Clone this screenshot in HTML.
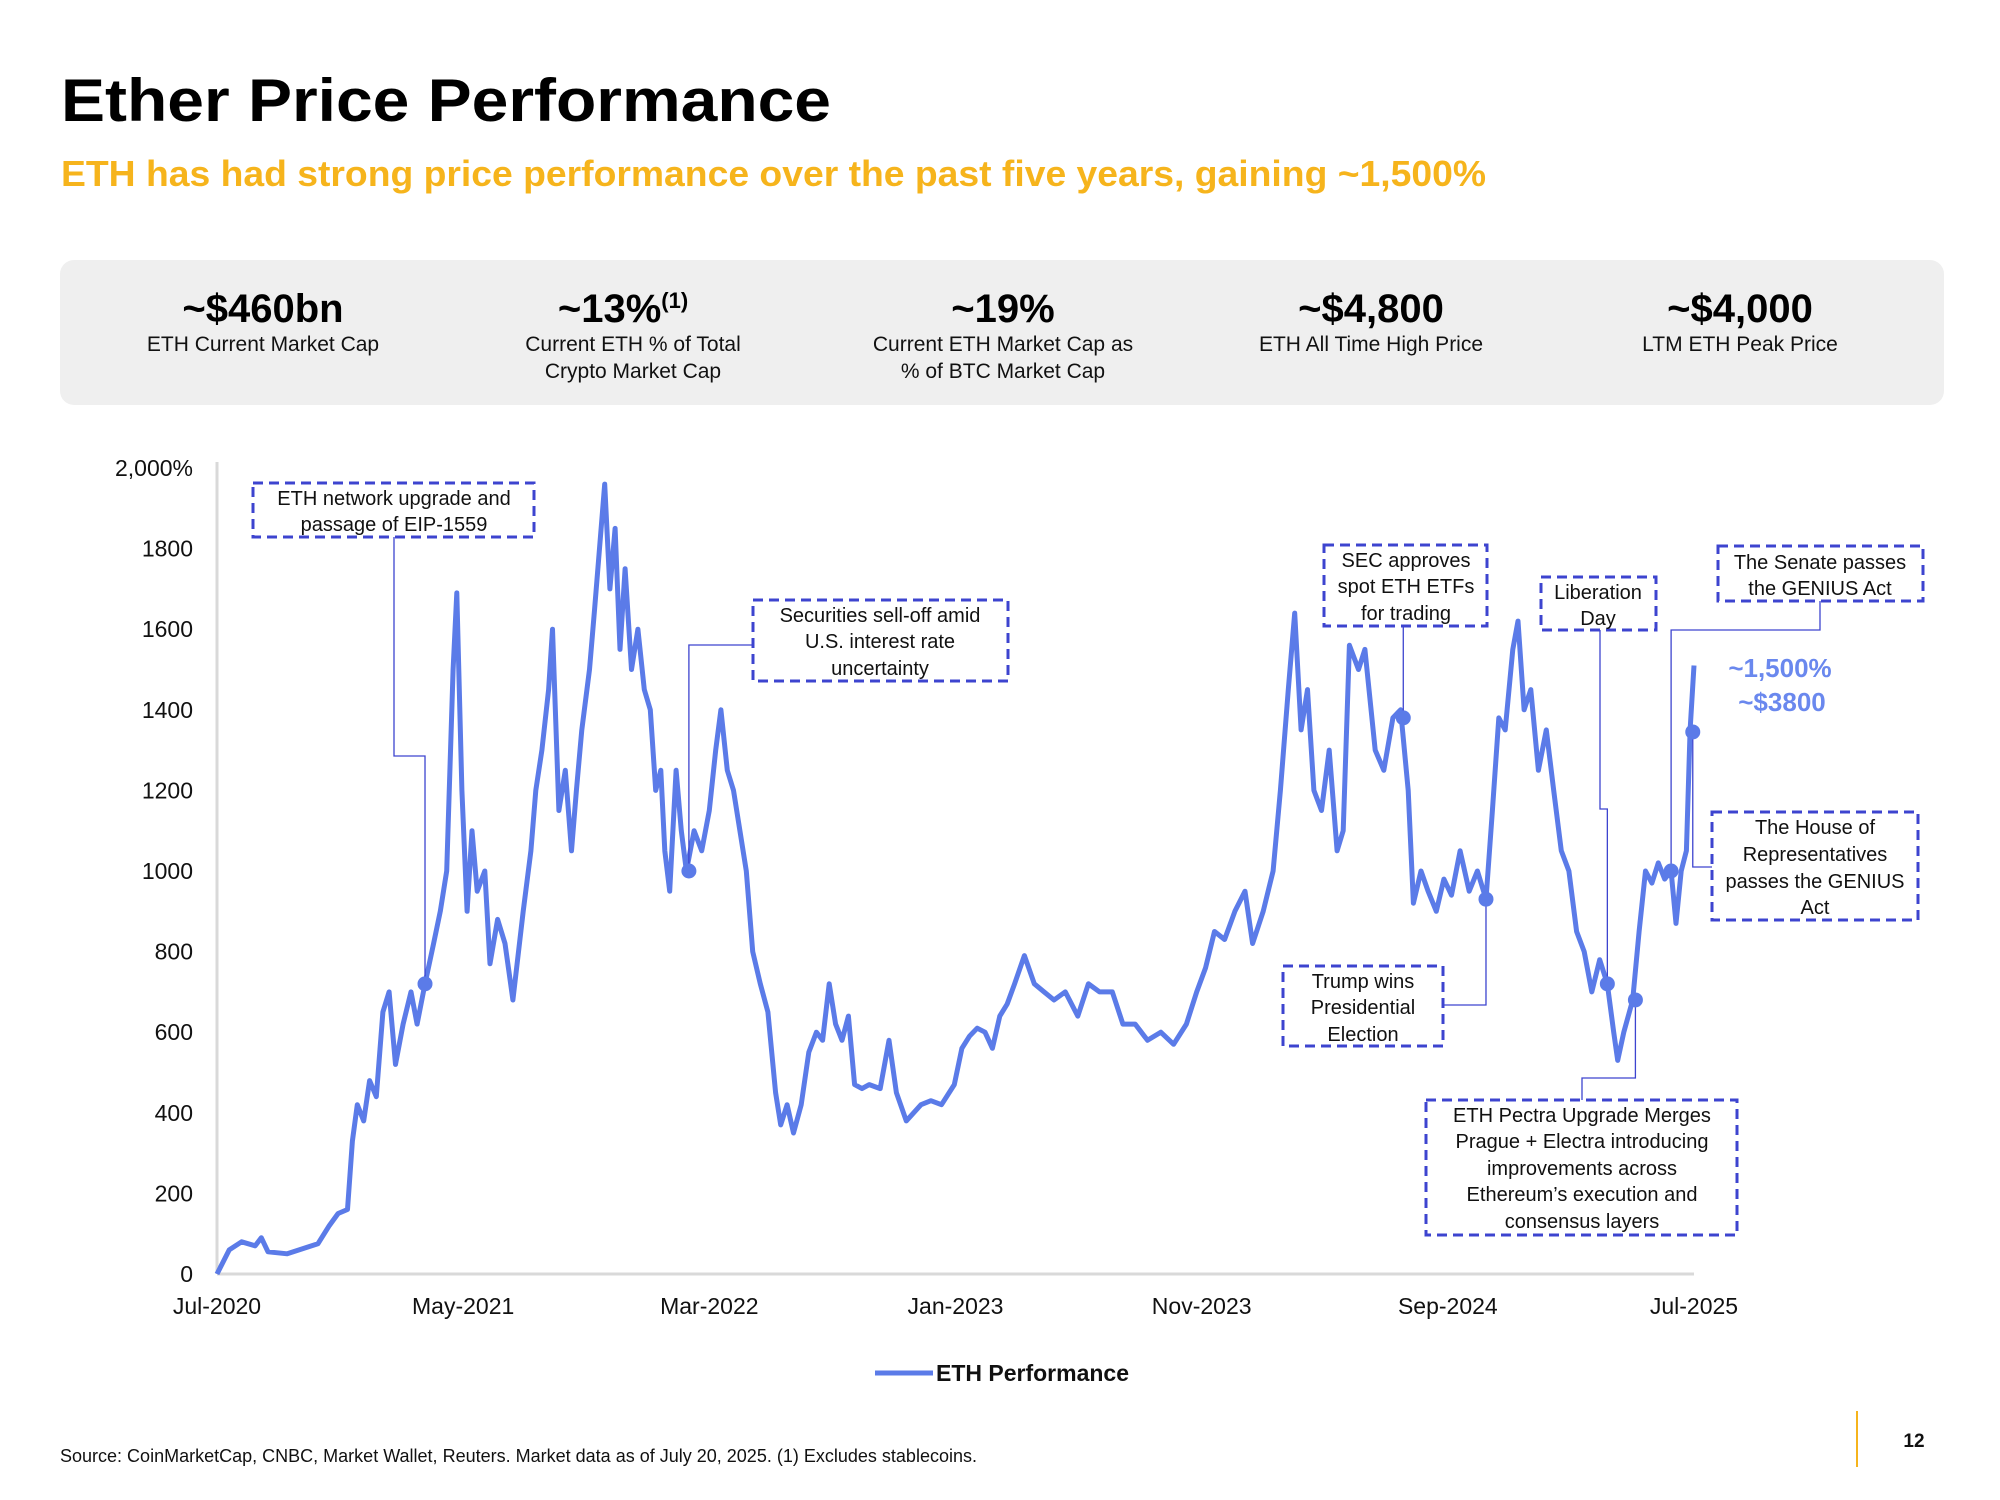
<!DOCTYPE html>
<html><head><meta charset="utf-8"><title>Ether Price Performance</title>
<style>
html,body{margin:0;padding:0;background:#fff;}
svg{display:block;font-family:"Liberation Sans",sans-serif;}
</style></head>
<body>
<svg id="page" width="2000" height="1500" viewBox="0 0 2000 1500" xmlns="http://www.w3.org/2000/svg">
  <text x="61" y="121" font-size="60" font-weight="bold" fill="#000" textLength="770" lengthAdjust="spacingAndGlyphs">Ether Price Performance</text>
  <text x="61" y="186" font-size="36" font-weight="bold" fill="#f6b41c" textLength="1425" lengthAdjust="spacingAndGlyphs">ETH has had strong price performance over the past five years, gaining ~1,500%</text>

  <g>
    <rect x="60" y="260" width="1884" height="145" rx="14" fill="#efefef"/>
    <g font-size="40" font-weight="bold" fill="#000" text-anchor="middle">
      <text x="263" y="322">~$460bn</text>
      <text x="623" y="322">~13%<tspan font-size="22" dy="-14">(1)</tspan></text>
      <text x="1003" y="322">~19%</text>
      <text x="1371" y="322">~$4,800</text>
      <text x="1740" y="322">~$4,000</text>
    </g>
    <g font-size="21" fill="#111" text-anchor="middle">
      <text x="263" y="351">ETH Current Market Cap</text>
      <text x="633" y="351">Current ETH % of Total</text>
      <text x="633" y="378">Crypto Market Cap</text>
      <text x="1003" y="351">Current ETH Market Cap as</text>
      <text x="1003" y="378">% of BTC Market Cap</text>
      <text x="1371" y="351">ETH All Time High Price</text>
      <text x="1740" y="351">LTM ETH Peak Price</text>
    </g>
  </g>

  <g id="chart"></g>

  <g font-size="20" fill="#111" text-anchor="middle">
    <g fill="none" stroke="#3d44cf" stroke-width="3" stroke-dasharray="10,6">
      <rect x="253" y="483" width="281" height="54"/>
      <rect x="753" y="600" width="255" height="81"/>
      <rect x="1324" y="545" width="163" height="81"/>
      <rect x="1541" y="577" width="115" height="53"/>
      <rect x="1718" y="546" width="205" height="55"/>
      <rect x="1712" y="812" width="206" height="108"/>
      <rect x="1283" y="966" width="160" height="80"/>
      <rect x="1426" y="1100" width="311" height="135"/>
    </g>
    <g><text x="394" y="505">ETH network upgrade and</text><text x="394" y="531">passage of EIP-1559</text></g>
    <g><text x="880" y="622">Securities sell-off amid</text><text x="880" y="648">U.S. interest rate</text><text x="880" y="675">uncertainty</text></g>
    <g><text x="1406" y="567">SEC approves</text><text x="1406" y="593">spot ETH ETFs</text><text x="1406" y="620">for trading</text></g>
    <g><text x="1598" y="599">Liberation</text><text x="1598" y="625">Day</text></g>
    <g><text x="1820" y="569">The Senate passes</text><text x="1820" y="595">the GENIUS Act</text></g>
    <g><text x="1815" y="834">The House of</text><text x="1815" y="861">Representatives</text><text x="1815" y="888">passes the GENIUS</text><text x="1815" y="914">Act</text></g>
    <g><text x="1363" y="988">Trump wins</text><text x="1363" y="1014">Presidential</text><text x="1363" y="1041">Election</text></g>
    <g><text x="1582" y="1122">ETH Pectra Upgrade Merges</text><text x="1582" y="1148">Prague + Electra introducing</text><text x="1582" y="1175">improvements across</text><text x="1582" y="1201">Ethereum’s execution and</text><text x="1582" y="1228">consensus layers</text></g>
  </g>

  <g font-size="26" font-weight="bold" fill="#6a88ee" text-anchor="middle">
    <text x="1780" y="677">~1,500%</text>
    <text x="1782" y="711">~$3800</text>
  </g>

  <g>
    <line x1="875" y1="1373" x2="933" y2="1373" stroke="#5b7be8" stroke-width="5"/>
    <text x="936" y="1381" font-size="23" font-weight="bold" fill="#111">ETH Performance</text>
  </g>

  <text x="60" y="1462" font-size="18" fill="#111" font-family="'Liberation Sans Narrow','Liberation Sans',sans-serif" textLength="917" lengthAdjust="spacingAndGlyphs">Source: CoinMarketCap, CNBC, Market Wallet, Reuters. Market data as of July 20, 2025. (1) Excludes stablecoins.</text>
  <line x1="1857" y1="1411" x2="1857" y2="1467" stroke="#f6b41c" stroke-width="2"/>
  <text x="1914" y="1447" font-size="19" font-weight="bold" fill="#111" text-anchor="middle">12</text>
</svg>
<script>
// ---- chart data ----
const monthOffsets = [0,0.5,1.0,1.55,1.8,2.07,2.85,3.6,4.1,4.56,4.92,5.3,5.5,5.7,5.96,6.2,6.47,6.74,6.99,7.25,7.56,7.88,8.13,8.45,8.8,9.07,9.33,9.59,9.74,9.95,10.16,10.36,10.57,10.88,11.09,11.4,11.7,12.02,12.44,12.75,12.95,13.2,13.47,13.63,13.89,14.15,14.4,14.6,14.82,15.13,15.34,15.54,15.75,15.96,16.17,16.37,16.58,16.84,17.1,17.36,17.6,17.82,18.03,18.19,18.39,18.65,18.86,19.07,19.38,19.69,20.0,20.26,20.47,20.73,20.98,21.24,21.5,21.76,22.07,22.38,22.69,22.9,23.16,23.42,23.73,24.04,24.35,24.6,24.87,25.13,25.39,25.65,25.9,26.2,26.5,26.94,27.3,27.6,28.0,28.6,29.0,29.43,29.95,30.26,30.57,30.88,31.2,31.5,31.8,32.1,32.4,32.8,33.2,33.6,34.0,34.46,34.97,35.4,35.85,36.37,36.8,37.3,37.8,38.34,38.86,39.38,39.8,40.16,40.52,40.93,41.35,41.76,42.07,42.5,42.9,43.2,43.52,43.78,44.04,44.3,44.56,44.87,45.18,45.5,45.75,46.0,46.37,46.63,47.05,47.4,47.77,48.08,48.39,48.6,48.91,49.2,49.53,49.84,50.15,50.5,50.87,51.2,51.55,51.81,52.07,52.33,52.64,52.85,53.1,53.37,53.68,54.0,54.3,54.61,54.92,55.23,55.54,55.85,56.17,56.48,56.74,56.9,57.15,57.51,57.77,58.03,58.29,58.55,58.81,59.07,59.27,59.48,59.69,59.84,60.0];
const ethValues = [0,60,80,70,90,55,50,65,75,120,150,160,330,420,380,480,440,650,700,520,620,700,620,720,820,900,1000,1500,1690,1200,900,1100,950,1000,770,880,820,680,900,1050,1200,1300,1450,1600,1150,1250,1050,1200,1350,1500,1650,1800,1960,1700,1850,1550,1750,1500,1600,1450,1400,1200,1250,1050,950,1250,1100,1000,1100,1050,1150,1300,1400,1250,1200,1100,1000,800,720,650,450,370,420,350,420,550,600,580,720,620,580,640,470,460,470,460,580,450,380,420,430,420,470,560,590,610,600,560,640,670,720,790,720,700,680,700,640,720,700,700,620,620,580,600,570,620,700,760,850,830,900,950,820,900,1000,1200,1450,1640,1350,1450,1200,1150,1300,1050,1100,1560,1500,1550,1300,1250,1380,1400,1200,920,1000,950,900,980,940,1050,950,1000,930,1150,1380,1350,1550,1620,1400,1450,1250,1350,1200,1050,1000,850,800,700,780,720,600,530,600,680,850,1000,970,1020,980,1000,870,1000,1050,1350,1510];
const yTickValues = [0,200,400,600,800,1000,1200,1400,1600,1800,2000];
const yTickLabels = ["0","200","400","600","800","1000","1200","1400","1600","1800","2,000%"];
const xTickMonths = [0,10,20,30,40,50,60];
const xTickLabels = ["Jul-2020","May-2021","Mar-2022","Jan-2023","Nov-2023","Sep-2024","Jul-2025"];
const eventMonths = [8.45,19.17,48.19,51.55,56.48,57.62,59.07,59.95];
const eventValues = [720,1000,1380,930,720,680,1000,1345];
const eventNames = ["eip1559","selloff","sec-etf","trump","liberation-day","pectra","senate","house"];

const NS = "http://www.w3.org/2000/svg";
const X0 = 217, X1 = 1694, Y0 = 1274, Y1 = 468;
const xMax = 60, yMax = 2000;
function xScale(m){ return X0 + m / xMax * (X1 - X0); }
function yScale(v){ return Y0 - v / yMax * (Y0 - Y1); }
const chart = document.getElementById('chart');
function mk(tag, attrs){ const e = document.createElementNS(NS, tag); for (const k in attrs) e.setAttribute(k, attrs[k]); return e; }

const yAxis = mk('line', {x1:X0, y1:Y0, x2:X0, y2:yScale(yMax)-6, stroke:'#d9d9d9', 'stroke-width':3});


chart.appendChild(yAxis);
const xAxis = mk('line', {x1:X0, y1:Y0, x2:X1, y2:Y0, stroke:'#d9d9d9', 'stroke-width':3});


chart.appendChild(xAxis);

yTickValues.forEach((v, i) => {
  const t = mk('text', {x:193, y:yScale(v)+8, 'font-size':23, fill:'#111', 'text-anchor':'end'});
  t.textContent = yTickLabels[i];
  
  
  chart.appendChild(t);
});
xTickMonths.forEach((m, i) => {
  const t = mk('text', {x:xScale(m), y:1314, 'font-size':23, fill:'#111', 'text-anchor':'middle'});
  t.textContent = xTickLabels[i];
  
  
  chart.appendChild(t);
});

let d = '';
monthOffsets.forEach((m, i) => { d += (i ? 'L' : 'M') + xScale(m).toFixed(1) + ',' + yScale(ethValues[i]).toFixed(1); });
const line = mk('path', {d:d, fill:'none', stroke:'#5b7be8', 'stroke-width':5, 'stroke-linejoin':'round'});


chart.appendChild(line);

const routes = [
  [[394,537],[394,756]],
  [[753,645]],
  [[1404,626]],
  [[1443,1005]],
  [[1600,630],[1600,809]],
  [[1582,1100],[1582,1078]],
  [[1820,601],[1820,630]],
  [[1712,867]]
];
eventMonths.forEach((m, i) => {
  const mx = xScale(m), my = yScale(eventValues[i]);
  const r = routes[i];
  const last = r[r.length - 1];
  let pd = 'M' + r.map(p => p[0] + ',' + p[1]).join('L') + 'L' + mx + ',' + last[1] + 'L' + mx + ',' + my;
  const c = mk('path', {d:pd, fill:'none', stroke:'#3d44cf', 'stroke-width':1.3});
  
  
  chart.appendChild(c);
  const dot = mk('circle', {cx:mx, cy:my, r:7.5, fill:'#5b7be8'});
  
  
  chart.appendChild(dot);
});
</script>
</body></html>
